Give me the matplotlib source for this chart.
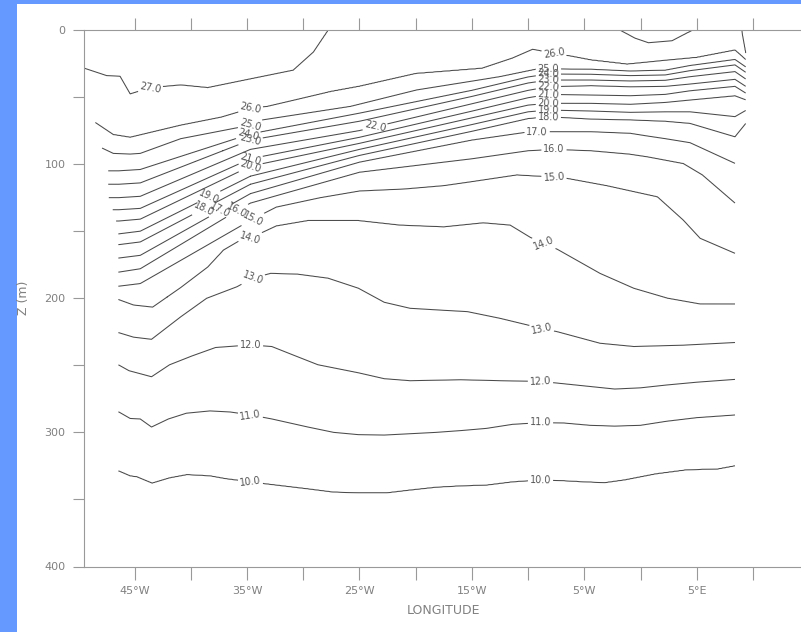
import numpy as np
import matplotlib
matplotlib.use('Agg')
import matplotlib.pyplot as plt
from matplotlib.patches import Rectangle

lon27w = [-49.55, -47.5, -46.3, -45.4, -43.6, -40.9, -38.5, -35.0, -30.9, -29.1, -27.8]
z27w = [28.3, 34.0, 34.5, 47.7, 43.0, 41.0, 43.0, 37.0, 30.0, 16.4, 0.0]
lon27p = [-1.8, -0.5, 0.7, 2.8, 4.6]
z27p = [0.0, 6.0, 9.5, 8.0, 0.0]
lon27e = [9.0, 9.35]
z27e = [0.0, 17.4]

lon26 = [-48.5, -46.9, -45.4, -43.9, -40.9, -37.3, -34.7, -33.2, -27.6, -25.0, -20.0, -14.1, -11.4, -9.6, -7.7, -6.2, -4.4, -1.2, 2.2, 5.0, 8.4, 9.35]
z26 = [69, 78, 80, 77, 71, 65, 58.5, 57, 46, 42, 32.5, 28.6, 21, 14.4, 17.4, 19.5, 22.4, 25.5, 22.6, 20.5, 15, 22]
lon25 = [-47.9, -46.9, -45.4, -44.5, -40.9, -34.7, -33.6, -25.8, -19.9, -12.5, -8.9, -6.2, -4.4, -0.9, 2.2, 4.4, 8.4, 9.35]
z25 = [88, 92, 92.5, 92, 81, 71, 67, 57, 44.7, 34.8, 28.6, 29.3, 29.3, 30.6, 30, 26.5, 22, 27.5]

lon_mid = [-46.4, -44.5, -34.7, -25.0, -15.0, -10.0, -8.2, -4.4, -0.9, 2.2, 4.4, 8.4, 9.35]
z24 = [105, 104, 77.5, 62, 45, 35, 32.8, 33, 34, 33.5, 30.3, 26, 31.5]
z23 = [115, 114, 82, 68, 49.5, 39.5, 37.3, 37.3, 38, 37.5, 34.8, 31, 36.5]
z22 = [125, 124, 89, 75, 55, 45, 42.3, 41.5, 42.3, 42, 40.3, 36.8, 42]
z21 = [134, 133, 96, 80, 60.5, 50.5, 48, 48.5, 49, 48, 45.3, 42, 47]
z20 = [142.4, 141, 101.5, 84.5, 65.5, 56, 54.7, 54.7, 55.4, 54, 52.2, 49, 52]
z19 = [152, 150, 109, 89, 70.5, 61, 59.7, 60.4, 61.4, 61, 61, 64.6, 60]
z18 = [160, 158, 115, 93.5, 75.5, 66, 64.6, 66.4, 67, 68, 69.6, 79.6, 69.6]
lon17 = [-46.4, -44.5, -34.7, -25.0, -15.0, -10.0, -8.2, -4.4, -0.9, 0.6, 2.2, 4.4, 8.4]
z17 = [170, 168, 122, 98.5, 82, 76, 75.8, 75.8, 77, 79, 81, 84, 99.4]
lon16 = [-46.4, -44.5, -35.9, -34.7, -25.0, -15.0, -10.0, -7.7, -4.4, -1.0, 0.6, 3.8, 5.5, 8.4]
z16 = [180.5, 178, 134.7, 129, 106, 96, 90, 89, 90, 92.5, 94.5, 99.5, 108, 129]
lon15 = [-46.4, -44.5, -34.5, -32.4, -28.5, -25.0, -21.0, -17.5, -15.0, -11.0, -7.7, -6.5, -3.0, 1.5, 3.8, 5.3, 8.4]
z15 = [191, 189, 141, 132, 125, 120, 118.5, 116, 113, 108, 109.6, 110.6, 116, 124.3, 141.7, 155.3, 166.5]
lon14 = [-46.4, -45.1, -43.4, -42.1, -40.9, -38.5, -37.1, -35.6, -34.7, -32.4, -29.6, -25.1, -21.4, -17.5, -14.0, -11.6, -9.8, -7.4, -3.6, -0.6, 2.4, 5.3, 8.4]
z14 = [201, 205, 206.6, 199, 192, 176.7, 164, 156.6, 155, 146, 142, 142, 145.4, 146.7, 143.7, 145.4, 154.6, 163.5, 181.5, 192.6, 200, 204.3, 204.3]
lon13 = [-46.4, -45.1, -43.5, -40.9, -38.6, -35.9, -34.5, -32.9, -30.5, -27.8, -25.1, -22.8, -20.5, -17.5, -15.4, -12.5, -8.8, -7.4, -3.6, -0.6, 3.8, 8.4]
z13 = [225.7, 229, 230.6, 213.8, 200, 191.4, 185, 181.4, 182, 185, 192.5, 203, 207.5, 209, 210, 215, 222.5, 225, 233.6, 236, 235, 233]
lon12 = [-46.4, -45.5, -43.5, -41.9, -39.9, -37.8, -34.7, -32.8, -31.0, -28.7, -25.1, -22.8, -20.5, -16.0, -11.4, -8.9, -6.8, -2.3, 0.0, 2.3, 5.0, 8.4]
z12 = [249.8, 254, 258.5, 249.6, 243, 236.7, 234.8, 236, 242, 249.6, 255.6, 260, 261.5, 260.8, 261.7, 262, 263.8, 267.7, 266.8, 264.7, 262.6, 260.5]
lon11 = [-46.4, -45.4, -44.5, -43.5, -42.0, -40.4, -38.3, -36.5, -34.7, -32.8, -29.6, -27.3, -25.1, -22.8, -20.5, -18.2, -15.9, -13.7, -11.4, -8.9, -6.8, -4.5, -2.3, 0.0, 2.3, 5.0, 8.4]
z11 = [284.8, 289.6, 290, 296, 290, 285.7, 284, 284.8, 287, 290, 296, 300, 301.7, 302, 301, 300, 298.6, 297, 294, 292.7, 293, 294.7, 295.3, 294.7, 291.7, 289, 287]
lon10 = [-46.4, -45.4, -44.8, -43.45, -41.9, -40.35, -38.3, -36.9, -34.7, -33.3, -29.6, -27.35, -25.1, -22.6, -20.5, -18.2, -16.0, -13.7, -11.4, -8.75, -6.8, -5.0, -3.2, -1.4, 1.35, 4.1, 6.85, 8.4]
z10 = [328.7, 332.3, 333, 337.7, 333.8, 331.4, 332.3, 334.4, 336.8, 338.3, 342, 344.4, 345, 345, 342.9, 340.8, 339.8, 339.2, 336.8, 335.3, 336, 336.8, 337.4, 335.3, 330.8, 327.8, 327.2, 324.8]

# western edge of the data (depth, lon)
edge_z = [0, 40, 69, 88, 103, 124.5, 133.5, 141.7, 150]
edge_lon = [-49.6, -49.6, -48.5, -47.9, -47.4, -47.35, -47.0, -46.7, -46.45]

iso = {26: (lon26, z26), 25: (lon25, z25),
       24: (lon_mid, z24), 23: (lon_mid, z23), 22: (lon_mid, z22), 21: (lon_mid, z21),
       20: (lon_mid, z20), 19: (lon_mid, z19), 18: (lon_mid, z18), 17: (lon17, z17),
       16: (lon16, z16), 15: (lon15, z15), 14: (lon14, z14), 13: (lon13, z13),
       12: (lon12, z12), 11: (lon11, z11), 10: (lon10, z10)}
warm_segs = [(lon27w, z27w), (lon27p, z27p), (lon27e, z27e)]

lon_g = np.linspace(-49.55, 9.35, 1179)
z_g = np.arange(0, 400.5, 0.5)
T = np.empty((len(z_g), len(lon_g)))
for j, lo in enumerate(lon_g):
    zs, ts = [], []
    warm = False
    for sl, sz in warm_segs:
        if sl[0] <= lo <= sl[-1]:
            d = np.interp(lo, sl, sz)
            if d > 0:
                zs.append(d)
                ts.append(27.0)
                warm = True
    zs.insert(0, 0.0)
    ts.insert(0, 27.6 if warm else 26.6)
    for lev in range(26, 9, -1):
        xl, zl = iso[lev]
        zs.append(np.interp(lo, xl, zl))
        ts.append(float(lev))
    zs.append(401.0)
    ts.append(9.6)
    T[:, j] = np.interp(z_g, zs, ts)

LON, Z = np.meshgrid(lon_g, z_g)
lonmin = np.interp(z_g, edge_z, edge_lon)
lonmax = np.where(z_g < 92, 9.36, 8.42)
mask = (LON < lonmin[:, None]) | (LON > lonmax[:, None])
Tm = np.ma.masked_where(mask, T)

fig = plt.figure(figsize=(8.01, 6.32), dpi=100, facecolor='#6699ff')
fig.patches.append(Rectangle((17 / 801, 0), 1, 628 / 632, transform=fig.transFigure,
                             facecolor='white', edgecolor='none', zorder=-10))
ax = fig.add_axes([83.5 / 801, 65.5 / 632, (803 - 83.5) / 801, (602 - 65.5) / 632])
ax.set_facecolor('white')
ax.set_zorder(5)

cs = ax.contour(lon_g, z_g, Tm, levels=np.arange(10, 28, 1),
                colors='#4a4a4a', linewidths=0.75)

label_pos = [(-43.6, 43.5), (-34.7, 58.5), (-34.7, 71.3), (-34.9, 78.3), (-34.7, 82.3),
             (-23.6, 73), (-34.7, 96.3), (-34.7, 101.8), (-38.4, 124.5), (-38.9, 133),
             (-37.4, 134.5), (-35.9, 134.7), (-34.5, 141), (-34.7, 155), (-34.5, 185),
             (-34.7, 235), (-34.7, 287), (-34.7, 337),
             (-7.7, 17.4), (-8.2, 28.8), (-8.2, 32.8), (-8.2, 37.3), (-8.2, 42.3),
             (-8.2, 48), (-8.2, 54.7), (-8.2, 59.7), (-8.2, 64.6), (-9.2, 76),
             (-7.7, 89), (-7.7, 109.6), (-8.6, 159), (-8.8, 222.5), (-8.9, 262),
             (-8.9, 292.7), (-8.9, 335.4)]
ax.clabel(cs, manual=label_pos, inline=True, inline_spacing=3, fmt='%.1f',
          fontsize=7, colors='#555555')

ax.set_xlim(-49.55, 14.45)
ax.set_ylim(400, 0)

xt = np.arange(-45, 15, 5)
xl = []
for v in xt:
    if v % 10 == 0:
        xl.append('')
    elif v < 0:
        xl.append('%d°W' % -v)
    else:
        xl.append('%d°E' % v)
ax.set_xticks(xt)
ax.set_xticklabels(xl)
ax.set_yticks([0, 100, 200, 300, 400])
ax.set_yticks([50, 150, 250, 350], minor=True)

ax.tick_params(axis='x', which='both', top=True, bottom=True, direction='out',
               length=9, width=0.8, color='#999999', labelcolor='#808080',
               labelsize=8, pad=5)
ax.tick_params(axis='y', which='both', left=True, right=False, direction='out',
               length=8, width=0.8, color='#999999', labelcolor='#808080',
               labelsize=8, pad=5)
for s in ['left', 'top', 'bottom']:
    ax.spines[s].set_color('#999999')
    ax.spines[s].set_linewidth(0.8)
ax.spines['right'].set_visible(False)

fig.text(23 / 801, 1 - 298 / 632, 'Z (m)', rotation=90, ha='center', va='center',
         color='#808080', fontsize=9)
fig.text(443.5 / 801, 1 - 611 / 632, 'LONGITUDE', ha='center', va='center',
         color='#808080', fontsize=9)

fig.savefig('out.png', dpi=100, facecolor=fig.get_facecolor())
